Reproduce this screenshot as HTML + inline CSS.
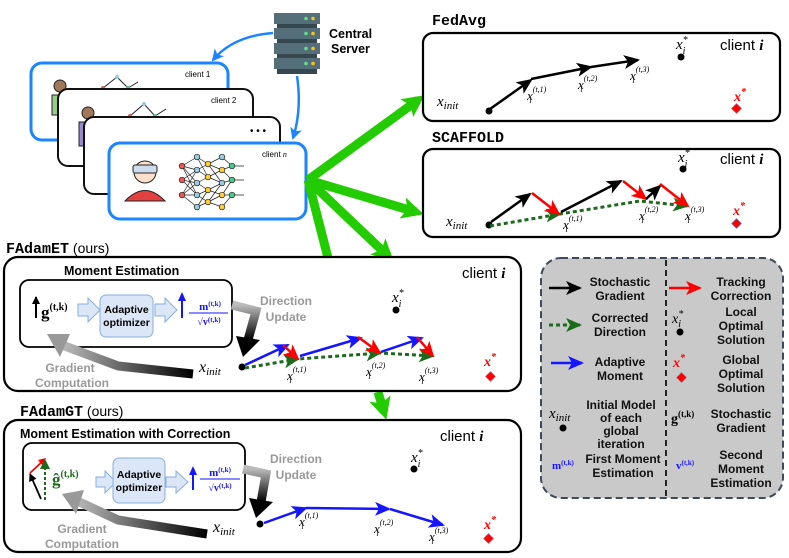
<!DOCTYPE html>
<html><head><meta charset="utf-8"><style>
html,body{margin:0;padding:0;background:#fff}
svg{display:block}
.s{font-family:"Liberation Sans",sans-serif}
.m{font-family:"Liberation Serif",serif;font-style:italic}
.b{font-family:"Liberation Serif",serif;font-weight:bold}
.lg{font-family:"Liberation Sans",sans-serif;font-weight:bold;font-size:12px;text-anchor:middle;fill:#111}
.tt{font-family:"Liberation Mono",monospace;font-weight:bold;font-size:15px}
</style></head><body>
<svg width="789" height="558" viewBox="0 0 789 558" xmlns="http://www.w3.org/2000/svg">
<defs>
<marker id="hk" markerUnits="userSpaceOnUse" markerWidth="16" markerHeight="14" refX="14" refY="7" orient="auto"><path d="M0,0 L16,7 L0,14 L4,7 z" fill="#000"/></marker>
<marker id="hr" markerUnits="userSpaceOnUse" markerWidth="16" markerHeight="14" refX="14" refY="7" orient="auto"><path d="M0,0 L16,7 L0,14 L4,7 z" fill="#f00"/></marker>
<marker id="hb" markerUnits="userSpaceOnUse" markerWidth="16" markerHeight="14" refX="14" refY="7" orient="auto"><path d="M0,0 L16,7 L0,14 L4,7 z" fill="#1515ff"/></marker>
<marker id="hg" markerUnits="userSpaceOnUse" markerWidth="16" markerHeight="14" refX="14" refY="7" orient="auto"><path d="M0,0 L16,7 L0,14 L4,7 z" fill="#1a6b1a"/></marker>
<marker id="hsb" markerUnits="userSpaceOnUse" markerWidth="12" markerHeight="12" refX="10" refY="6" orient="auto"><path d="M0,0 L12,6 L0,12 L3,6 z" fill="#1a85ff"/></marker>
<marker id="hG" markerUnits="userSpaceOnUse" markerWidth="22" markerHeight="22" refX="14" refY="11" orient="auto"><path d="M0,0 L22,11 L0,22 L5,11 z" fill="#22cc00"/></marker>
<marker id="hs" markerUnits="userSpaceOnUse" markerWidth="8" markerHeight="8" refX="7" refY="4" orient="auto"><path d="M0,0 L8,4 L0,8 z" fill="#000"/></marker>
<linearGradient id="gd" x1="0" y1="0" x2="0" y2="1"><stop offset="0" stop-color="#bbb"/><stop offset="1" stop-color="#000"/></linearGradient>
<linearGradient id="gc" x1="1" y1="0" x2="0" y2="0"><stop offset="0" stop-color="#000"/><stop offset="1" stop-color="#bbb"/></linearGradient>
</defs>

<!-- Client stack -->
<rect x="31" y="63" width="197" height="77" rx="11" fill="#fff" stroke="#1a85ff" stroke-width="3"/>
<text x="185" y="77" class="s" font-size="8">client 1</text>
<circle cx="60" cy="86" r="6" fill="#a0785a" stroke="#222"/>
<rect x="52" y="95" width="12" height="20" fill="#9c8" stroke="#222"/>
<path d="M103,88 L117,77 L128,88 L138,82" stroke="#222" fill="none"/>
<circle cx="103" cy="88" r="2" fill="#e55"/><circle cx="117" cy="77" r="2" fill="#9cd"/><circle cx="128" cy="88" r="2" fill="#4c8"/>
<rect x="58" y="89" width="195" height="77" rx="10" fill="#fff" stroke="#111" stroke-width="2"/>
<text x="211" y="103" class="s" font-size="8">client 2</text>
<circle cx="88" cy="113" r="6" fill="#a0785a" stroke="#222"/>
<rect x="79" y="122" width="12" height="24" fill="#98c" stroke="#222"/>
<path d="M130,116 L144,104 L155,116 L166,109" stroke="#222" fill="none"/>
<circle cx="130" cy="116" r="2" fill="#e55"/><circle cx="144" cy="104" r="2" fill="#9cd"/><circle cx="155" cy="116" r="2" fill="#4c8"/>
<rect x="84" y="117" width="196" height="77" rx="10" fill="#fff" stroke="#111" stroke-width="2"/>
<text x="250" y="134" class="s" font-size="10">• • •</text>
<rect x="109" y="143" width="197" height="76" rx="11" fill="#fff" stroke="#1a85ff" stroke-width="3"/>
<text x="262" y="157" class="s" font-size="8">client <tspan class="m">n</tspan></text>
<circle cx="145" cy="172" r="11" fill="#fde0cc" stroke="#222"/>
<rect x="133" y="165" width="24" height="8" rx="2" fill="#cde" stroke="#222"/>
<path d="M125,201 Q145,180 165,201 Z" fill="#e34040" stroke="#222"/>
<g stroke="#222" stroke-width="0.7">
<path d="M182,166 L197,157 M182,166 L197,170 M182,166 L197,183 M182,180 L197,170 M182,180 L197,183 M182,180 L197,195 M182,195 L197,183 M182,195 L197,195 M182,195 L197,207 M182,166 L197,195 M182,195 L197,170"/>
<path d="M197,157 L208,164 M197,170 L208,164 M197,170 L208,177 M197,183 L208,177 M197,183 L208,190 M197,195 L208,190 M197,195 L208,202 M197,207 L208,202 M197,157 L208,177 M197,207 L208,190"/>
<path d="M208,164 L222,157 M208,164 L222,170 M208,177 L222,170 M208,177 L222,183 M208,190 L222,183 M208,190 L222,195 M208,202 L222,195 M208,202 L222,207 M208,164 L222,183 M208,202 L222,183"/>
<path d="M222,157 L232,166 M222,170 L232,166 M222,170 L232,180 M222,183 L232,180 M222,195 L232,180 M222,195 L232,195 M222,207 L232,195 M232,166 L244,166 M232,180 L244,180 M232,195 L244,195"/>
</g>
<g stroke="#222" stroke-width="0.7">
<circle cx="182" cy="166" r="2.8" fill="#e55"/><circle cx="182" cy="180" r="2.8" fill="#e55"/><circle cx="182" cy="195" r="2.8" fill="#e55"/>
<circle cx="197" cy="157" r="2.8" fill="#9cd"/><circle cx="197" cy="170" r="2.8" fill="#9cd"/><circle cx="197" cy="183" r="2.8" fill="#9cd"/><circle cx="197" cy="195" r="2.8" fill="#9cd"/><circle cx="197" cy="207" r="2.8" fill="#9cd"/>
<circle cx="208" cy="164" r="2.8" fill="#fc3"/><circle cx="208" cy="177" r="2.8" fill="#fc3"/><circle cx="208" cy="190" r="2.8" fill="#fc3"/><circle cx="208" cy="202" r="2.8" fill="#fc3"/>
<circle cx="222" cy="157" r="2.8" fill="#9cd"/><circle cx="222" cy="170" r="2.8" fill="#fc3"/><circle cx="222" cy="183" r="2.8" fill="#9cd"/><circle cx="222" cy="195" r="2.8" fill="#fc3"/><circle cx="222" cy="207" r="2.8" fill="#fc3"/>
<circle cx="232" cy="166" r="2.8" fill="#4c8"/><circle cx="232" cy="180" r="2.8" fill="#4c8"/><circle cx="232" cy="195" r="2.8" fill="#4c8"/>
</g>

<!-- Server -->
<g>
<rect x="274" y="13" width="46" height="11" fill="#546e7a"/><rect x="277" y="24" width="40" height="4" fill="#37474f"/>
<rect x="274" y="28" width="46" height="11" fill="#546e7a"/><rect x="277" y="39" width="40" height="4" fill="#37474f"/>
<rect x="274" y="43" width="46" height="11" fill="#546e7a"/><rect x="277" y="54" width="40" height="4" fill="#37474f"/>
<rect x="274" y="58" width="46" height="11" fill="#546e7a"/><rect x="277" y="69" width="40" height="5" fill="#37474f"/>
<g fill="#5ee08a"><circle cx="306" cy="18.5" r="1.8"/><circle cx="306" cy="33.5" r="1.8"/><circle cx="306" cy="48.5" r="1.8"/><circle cx="306" cy="63.5" r="1.8"/></g>
<g fill="#f5c518"><circle cx="313" cy="18.5" r="1.8"/><circle cx="313" cy="33.5" r="1.8"/><circle cx="313" cy="48.5" r="1.8"/><circle cx="313" cy="63.5" r="1.8"/></g>
</g>
<text x="329" y="38" class="s" font-weight="bold" font-size="12.5">Central</text>
<text x="331" y="53" class="s" font-weight="bold" font-size="12.5">Server</text>
<path d="M273,33 Q233,36 213,60" stroke="#1a85ff" stroke-width="2.5" fill="none" marker-end="url(#hsb)"/>
<path d="M297,76 Q302,110 293,138" stroke="#1a85ff" stroke-width="2.5" fill="none" marker-end="url(#hsb)"/>

<!-- Green arrows -->
<g stroke="#22cc00" stroke-width="9" fill="none">
<path d="M308,180 L418,100" marker-end="url(#hG)"/>
<path d="M308,180 L416,212" marker-end="url(#hG)"/>
<path d="M308,180 L388,256" marker-end="url(#hG)"/>
<path d="M308,180 L328,258"/>
<path d="M378,392 L384,412" marker-end="url(#hG)"/>
</g>

<!-- FedAvg -->
<text x="432" y="25" class="tt">FedAvg</text>
<rect x="423" y="33" width="357" height="88" rx="10" fill="#fff" stroke="#000" stroke-width="2.2"/>
<text x="720" y="50" class="s" font-size="15">client <tspan class="m" font-weight="bold">i</tspan></text>
<text x="676" y="49" class="m" font-size="15">x<tspan font-size="10" dy="-6">*</tspan><tspan font-size="10" dx="-5" dy="11">i</tspan></text>
<circle cx="681" cy="57" r="3.5"/>
<text x="437" y="106" class="m" font-size="15">x<tspan font-size="11" dy="3">init</tspan></text>
<circle cx="489" cy="111" r="3.5"/>
<g stroke="#000" stroke-width="2.5" fill="none">
<path d="M490,109 L531,80" marker-end="url(#hk)"/>
<path d="M531,79 L591,67" marker-end="url(#hk)"/>
<path d="M591,67 L638,60" marker-end="url(#hk)"/>
</g>
<text x="527" y="100" class="m" font-size="13">x<tspan font-size="8" dy="-8">(t,1)</tspan><tspan font-size="8" dx="-17" dy="11">i</tspan></text>
<text x="578" y="89" class="m" font-size="13">x<tspan font-size="8" dy="-8">(t,2)</tspan><tspan font-size="8" dx="-17" dy="11">i</tspan></text>
<text x="630" y="80" class="m" font-size="13">x<tspan font-size="8" dy="-8">(t,3)</tspan><tspan font-size="8" dx="-17" dy="11">i</tspan></text>
<text x="734" y="101" class="m" font-size="14" fill="#f00" font-weight="bold">x<tspan font-size="10" dy="-6">*</tspan></text>
<rect x="733" y="105" width="7" height="7" fill="#f00" stroke="#77a" stroke-width="0.6" transform="rotate(45 736.5 108.5)"/>

<!-- SCAFFOLD -->
<text x="432" y="142" class="tt">SCAFFOLD</text>
<rect x="423" y="149" width="357" height="88" rx="10" fill="#fff" stroke="#000" stroke-width="2.2"/>
<text x="720" y="164" class="s" font-size="15">client <tspan class="m" font-weight="bold">i</tspan></text>
<text x="678" y="162" class="m" font-size="15">x<tspan font-size="10" dy="-6">*</tspan><tspan font-size="10" dx="-5" dy="11">i</tspan></text>
<circle cx="683" cy="169" r="3.5"/>
<text x="446" y="226" class="m" font-size="15">x<tspan font-size="11" dy="3">init</tspan></text>
<circle cx="489" cy="225" r="3.5"/>
<path d="M490,226 L560,214 L640,201 L687,206" stroke="#1a6b1a" stroke-width="3" stroke-dasharray="4,3" fill="none"/>
<path d="M640,201 L687,206" stroke="none" fill="none" marker-end="url(#hg)"/>
<path d="M520,218 L560,214" stroke="none" fill="none" marker-end="url(#hg)"/>
<g stroke-width="2.5" fill="none">
<path d="M491,222 L530,194" stroke="#000" marker-end="url(#hk)"/>
<path d="M532,193 L559,214" stroke="#f00" marker-end="url(#hr)"/>
<path d="M561,212 L621,181" stroke="#000" marker-end="url(#hk)"/>
<path d="M623,181 L646,199" stroke="#f00" marker-end="url(#hr)"/>
<path d="M646,199 L660,186" stroke="#000" marker-end="url(#hk)"/>
<path d="M660,184 L688,206" stroke="#f00" marker-end="url(#hr)"/>
</g>
<text x="563" y="229" class="m" font-size="13">x<tspan font-size="8" dy="-8">(t,1)</tspan><tspan font-size="8" dx="-17" dy="11">i</tspan></text>
<text x="639" y="220" class="m" font-size="13">x<tspan font-size="8" dy="-8">(t,2)</tspan><tspan font-size="8" dx="-17" dy="11">i</tspan></text>
<text x="685" y="220" class="m" font-size="13">x<tspan font-size="8" dy="-8">(t,3)</tspan><tspan font-size="8" dx="-17" dy="11">i</tspan></text>
<text x="733" y="215" class="m" font-size="14" fill="#f00" font-weight="bold">x<tspan font-size="10" dy="-6">*</tspan></text>
<rect x="733" y="220" width="7" height="7" fill="#f00" stroke="#77a" stroke-width="0.6" transform="rotate(45 736.5 223.5)"/>

<!-- FAdamET -->
<text x="6" y="253" class="tt">FAdamET<tspan class="s" font-weight="normal" font-size="14"> (ours)</tspan></text>
<rect x="4" y="257" width="517" height="134" rx="14" fill="#fff" stroke="#000" stroke-width="2.2"/>
<text x="64" y="275" class="s" font-weight="bold" font-size="12.5">Moment Estimation</text>
<text x="462" y="278" class="s" font-size="15">client <tspan class="m" font-weight="bold">i</tspan></text>
<rect x="20" y="280" width="212" height="67" rx="9" fill="#fff" stroke="#000" stroke-width="1.8"/>
<path d="M36,318 L36,297" stroke="#000" stroke-width="2" marker-end="url(#hs)"/>
<text x="41" y="318" class="b" font-size="17">g<tspan font-size="10" dy="-8">(t,k)</tspan></text>
<path d="M78,304 L88,304 L88,298 L100,310 L88,322 L88,316 L78,316 Z" fill="#dbe7f7" stroke="#8aaedc"/>
<rect x="100" y="295" width="53" height="42" rx="6" fill="#dbe7f7" stroke="#8aaedc"/>
<text x="126.5" y="313" class="s" font-weight="bold" font-size="10.5" text-anchor="middle">Adaptive</text>
<text x="126.5" y="326" class="s" font-weight="bold" font-size="10.5" text-anchor="middle">optimizer</text>
<path d="M155,304 L165,304 L165,298 L177,310 L165,322 L165,316 L155,316 Z" fill="#dbe7f7" stroke="#8aaedc"/>
<path d="M182,318 L182,297" stroke="#1515ff" stroke-width="2" fill="none"/><path d="M178,301 L182,292 L186,301 Z" fill="#1515ff"/>
<text x="210" y="310" class="b" font-size="11" fill="#1515ff" text-anchor="middle">m<tspan font-size="7" dy="-4">(t,k)</tspan></text>
<line x1="189" y1="313" x2="228" y2="313" stroke="#1515ff" stroke-width="1"/>
<text x="209" y="325" class="b" font-size="10" fill="#1515ff" text-anchor="middle">√v<tspan font-size="7" dy="-3">(t,k)</tspan></text>
<text x="286" y="305" class="s" font-weight="bold" font-size="12" fill="#999" text-anchor="middle">Direction</text>
<text x="286" y="321" class="s" font-weight="bold" font-size="12" fill="#999" text-anchor="middle">Update</text>
<path d="M232,305 L256,311 L248,340" stroke="url(#gd)" stroke-width="9" fill="none"/>
<path d="M236,336 L260,340 L243,357 Z" fill="#000"/>
<path d="M193,374 L118,366 L62,345" stroke="url(#gc)" stroke-width="9" fill="none"/>
<path d="M70,334 L47,334 L60,357 Z" fill="#999"/>
<text x="70" y="372" class="s" font-weight="bold" font-size="12" fill="#999" text-anchor="middle">Gradient</text>
<text x="72" y="387" class="s" font-weight="bold" font-size="12" fill="#999" text-anchor="middle">Computation</text>
<text x="199" y="372" class="m" font-size="16">x<tspan font-size="11" dy="3">init</tspan></text>
<circle cx="242" cy="367" r="3.5"/>
<text x="392" y="302" class="m" font-size="15">x<tspan font-size="10" dy="-6">*</tspan><tspan font-size="10" dx="-5" dy="11">i</tspan></text>
<circle cx="396" cy="310" r="3.5"/>
<path d="M245,368 L298,359 L380,353 L433,356" stroke="#1a6b1a" stroke-width="3" stroke-dasharray="4,3" fill="none"/>
<path d="M280,362 L298,359" fill="none" marker-end="url(#hg)"/>
<path d="M360,355 L380,353" fill="none" marker-end="url(#hg)"/>
<path d="M415,355 L433,356" fill="none" marker-end="url(#hg)"/>
<g stroke-width="2.5" fill="none">
<path d="M245,365 L288,345" stroke="#1515ff" marker-end="url(#hb)"/>
<path d="M283,345 L298,359" stroke="#f00" marker-end="url(#hr)"/>
<path d="M300,356 L361,338" stroke="#1515ff" marker-end="url(#hb)"/>
<path d="M358,337 L380,353" stroke="#f00" marker-end="url(#hr)"/>
<path d="M381,352 L422,338" stroke="#1515ff" marker-end="url(#hb)"/>
<path d="M417,337 L433,356" stroke="#f00" marker-end="url(#hr)"/>
</g>
<text x="287" y="380" class="m" font-size="13">x<tspan font-size="8" dy="-8">(t,1)</tspan><tspan font-size="8" dx="-17" dy="11">i</tspan></text>
<text x="366" y="376" class="m" font-size="13">x<tspan font-size="8" dy="-8">(t,2)</tspan><tspan font-size="8" dx="-17" dy="11">i</tspan></text>
<text x="419" y="381" class="m" font-size="13">x<tspan font-size="8" dy="-8">(t,3)</tspan><tspan font-size="8" dx="-17" dy="11">i</tspan></text>
<text x="484" y="366" class="m" font-size="14" fill="#f00" font-weight="bold">x<tspan font-size="10" dy="-6">*</tspan></text>
<rect x="487" y="373" width="7" height="7" fill="#f00" stroke="#77a" stroke-width="0.6" transform="rotate(45 490.5 376.5)"/>

<!-- FAdamGT -->
<text x="20" y="416" class="tt">FAdamGT<tspan class="s" font-weight="normal" font-size="14"> (ours)</tspan></text>
<rect x="4" y="420" width="517" height="132" rx="14" fill="#fff" stroke="#000" stroke-width="2.2"/>
<text x="20" y="438" class="s" font-weight="bold" font-size="12.5">Moment Estimation with Correction</text>
<text x="440" y="441" class="s" font-size="15">client <tspan class="m" font-weight="bold">i</tspan></text>
<rect x="23" y="443" width="222" height="67" rx="9" fill="#fff" stroke="#000" stroke-width="1.8"/>
<path d="M41,499 L30,474" stroke="#000" stroke-width="1.8" marker-end="url(#hs)"/>
<path d="M30,473 L44,460" stroke="#f00" stroke-width="1.8" fill="none"/><path d="M38,460 L46,458 L43,466 Z" fill="#f00"/>
<path d="M45,500 L45,468" stroke="#1a6b1a" stroke-width="2" stroke-dasharray="3,2"/><path d="M40,469 L45,459 L50,469 Z" fill="#1a6b1a"/>
<text x="52" y="485" class="b" font-size="17" fill="#1a6b1a">ĝ<tspan font-size="10" dy="-8">(t,k)</tspan></text>
<path d="M96,477 L105,477 L105,471 L116,482 L105,493 L105,487 L96,487 Z" fill="#dbe7f7" stroke="#8aaedc"/>
<rect x="113" y="458" width="52" height="45" rx="6" fill="#dbe7f7" stroke="#8aaedc"/>
<text x="139" y="478" class="s" font-weight="bold" font-size="10.5" text-anchor="middle">Adaptive</text>
<text x="139" y="491" class="s" font-weight="bold" font-size="10.5" text-anchor="middle">optimizer</text>
<path d="M166,477 L176,477 L176,471 L188,482 L176,493 L176,487 L166,487 Z" fill="#dbe7f7" stroke="#8aaedc"/>
<path d="M193,490 L193,472" stroke="#1515ff" stroke-width="2" fill="none"/><path d="M189,475 L193,466 L197,475 Z" fill="#1515ff"/>
<text x="220" y="476" class="b" font-size="11" fill="#1515ff" text-anchor="middle">m<tspan font-size="7" dy="-4">(t,k)</tspan></text>
<line x1="200" y1="479" x2="240" y2="479" stroke="#1515ff" stroke-width="1"/>
<text x="220" y="491" class="b" font-size="10" fill="#1515ff" text-anchor="middle">√v<tspan font-size="7" dy="-3">(t,k)</tspan></text>
<text x="296" y="463" class="s" font-weight="bold" font-size="12" fill="#999" text-anchor="middle">Direction</text>
<text x="296" y="479" class="s" font-weight="bold" font-size="12" fill="#999" text-anchor="middle">Update</text>
<path d="M243,469 L266,474 L261,502" stroke="url(#gd)" stroke-width="9" fill="none"/>
<path d="M249,498 L273,502 L256,518 Z" fill="#000"/>
<path d="M207,534 L118,520 L75,500" stroke="url(#gc)" stroke-width="9" fill="none"/>
<path d="M84,490 L62,494 L76,514 Z" fill="#999"/>
<text x="82" y="533" class="s" font-weight="bold" font-size="12" fill="#999" text-anchor="middle">Gradient</text>
<text x="82" y="548" class="s" font-weight="bold" font-size="12" fill="#999" text-anchor="middle">Computation</text>
<text x="213" y="532" class="m" font-size="16">x<tspan font-size="11" dy="3">init</tspan></text>
<circle cx="260" cy="524" r="3.5"/>
<text x="411" y="462" class="m" font-size="15">x<tspan font-size="10" dy="-6">*</tspan><tspan font-size="10" dx="-5" dy="11">i</tspan></text>
<circle cx="414" cy="469" r="3.5"/>
<g stroke-width="2.5" fill="none" stroke="#1515ff">
<path d="M264,523 L306,508" marker-end="url(#hb)"/>
<path d="M306,508 L389,509" marker-end="url(#hb)"/>
<path d="M390,509 L443,525" marker-end="url(#hb)"/>
</g>
<text x="299" y="526" class="m" font-size="13">x<tspan font-size="8" dy="-8">(t,1)</tspan><tspan font-size="8" dx="-17" dy="11">i</tspan></text>
<text x="374" y="533" class="m" font-size="13">x<tspan font-size="8" dy="-8">(t,2)</tspan><tspan font-size="8" dx="-17" dy="11">i</tspan></text>
<text x="429" y="541" class="m" font-size="13">x<tspan font-size="8" dy="-8">(t,3)</tspan><tspan font-size="8" dx="-17" dy="11">i</tspan></text>
<text x="484" y="529" class="m" font-size="14" fill="#f00" font-weight="bold">x<tspan font-size="10" dy="-6">*</tspan></text>
<rect x="485" y="535" width="7" height="7" fill="#f00" stroke="#77a" stroke-width="0.6" transform="rotate(45 488.5 538.5)"/>

<!-- Legend -->
<rect x="541" y="258" width="242" height="240" rx="20" fill="#c9c9c9" stroke="#3d4a5a" stroke-width="2" stroke-dasharray="7,4"/>
<line x1="666" y1="260" x2="666" y2="498" stroke="#111" stroke-width="1.8" stroke-dasharray="6,4"/>
<path d="M549,288 L580,288" stroke="#000" stroke-width="2.5" marker-end="url(#hk)"/>
<text x="620" y="286" class="lg">Stochastic</text><text x="620" y="300" class="lg">Gradient</text>
<path d="M549,325 L580,325" stroke="#1a6b1a" stroke-width="3" stroke-dasharray="4,3" marker-end="url(#hg)"/>
<text x="620" y="322" class="lg">Corrected</text><text x="620" y="336" class="lg">Direction</text>
<path d="M551,363 L582,363" stroke="#1515ff" stroke-width="2.5" marker-end="url(#hb)"/>
<text x="620" y="366" class="lg">Adaptive</text><text x="620" y="380" class="lg">Moment</text>
<text x="549" y="418" class="m" font-size="15">x<tspan font-size="11" dy="3">init</tspan></text>
<circle cx="563" cy="428" r="3.5"/>
<text x="621" y="409" class="lg">Initial Model</text><text x="621" y="422" class="lg">of each</text><text x="621" y="435" class="lg">global</text><text x="621" y="448" class="lg">iteration</text>
<text x="552" y="469" class="b" font-size="11" fill="#1515ff">m<tspan font-size="7" dy="-4">(t,k)</tspan></text>
<text x="623" y="463" class="lg">First Moment</text><text x="623" y="477" class="lg">Estimation</text>
<path d="M669,288 L700,288" stroke="#f00" stroke-width="2.5" marker-end="url(#hr)"/>
<text x="741" y="286" class="lg">Tracking</text><text x="741" y="300" class="lg">Correction</text>
<text x="672" y="323" class="m" font-size="14">x<tspan font-size="10" dy="-6">*</tspan><tspan font-size="10" dx="-5" dy="10">i</tspan></text>
<circle cx="680" cy="332" r="3.5"/>
<text x="741" y="316" class="lg">Local</text><text x="741" y="330" class="lg">Optimal</text><text x="741" y="344" class="lg">Solution</text>
<text x="673" y="367" class="m" font-size="14" fill="#f00" font-weight="bold">x<tspan font-size="10" dy="-6">*</tspan></text>
<rect x="678" y="374" width="7" height="7" fill="#f00" stroke="#77a" stroke-width="0.6" transform="rotate(45 681.5 377.5)"/>
<text x="741" y="364" class="lg">Global</text><text x="741" y="378" class="lg">Optimal</text><text x="741" y="392" class="lg">Solution</text>
<text x="671" y="423" class="b" font-size="14">g<tspan font-size="9" dy="-6">(t,k)</tspan></text>
<text x="741" y="418" class="lg">Stochastic</text><text x="741" y="432" class="lg">Gradient</text>
<text x="676" y="469" class="b" font-size="11" fill="#1515ff">v<tspan font-size="7" dy="-4">(t,k)</tspan></text>
<text x="741" y="459" class="lg">Second</text><text x="741" y="473" class="lg">Moment</text><text x="741" y="487" class="lg">Estimation</text>
</svg>
</body></html>
